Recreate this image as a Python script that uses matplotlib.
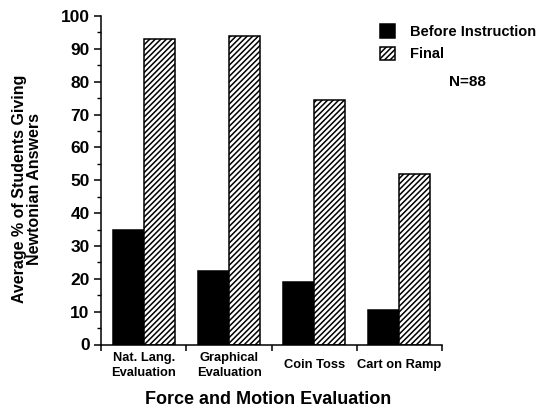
import matplotlib
matplotlib.use("Agg")
import matplotlib.pyplot as plt
import numpy as np
from matplotlib.ticker import MultipleLocator, FixedLocator

categories = ["Nat. Lang.\nEvaluation", "Graphical\nEvaluation", "Coin Toss", "Cart on Ramp"]
before = [35, 22.5, 19, 10.5]
final = [93, 94, 74.5, 52]
yticks = [0, 10, 20, 30, 40, 50, 60, 70, 80, 90, 100]

plt.rcParams['font.family'] = ['Liberation Sans', 'DejaVu Sans']
plt.rcParams['font.weight'] = 'bold'
plt.rcParams['hatch.linewidth'] = 1.1

W, H = 542, 407
fig = plt.figure(figsize=(W / 100, H / 100), dpi=100)
ax = fig.add_axes([100.7 / W, 1 - 344.5 / H, (442 - 100.7) / W, (344.5 - 16) / H])

x = np.arange(len(categories))
w = 0.363
b1 = ax.bar(x - w / 2, before, w, color='black', edgecolor='black', linewidth=1.1, label='Before Instruction')
b2 = ax.bar(x + w / 2, final, w, color='white', edgecolor='black', linewidth=1.1, hatch='//////', label='Final')

ax.set_xlim(-0.507, 3.5)
ax.set_ylim(0, 100)

for s in ['top', 'right']:
    ax.spines[s].set_visible(False)
for s in ['left', 'bottom']:
    ax.spines[s].set_linewidth(1.1)

ax.set_yticks(yticks)
ax.set_yticklabels([str(v) for v in yticks], fontsize=12.5, fontweight='bold')
ax.yaxis.set_minor_locator(MultipleLocator(5))
ax.tick_params(axis='y', which='major', direction='out', length=5, width=1.1, pad=3)
ax.tick_params(axis='y', which='minor', direction='out', length=3, width=1.0)

ax.set_xticks(x)
ax.set_xticklabels(categories, fontsize=9.3, fontweight='bold', linespacing=1.3)
for lbl in ax.get_xticklabels():
    lbl.set_verticalalignment('center')
ax.tick_params(axis='x', which='major', length=0, pad=15)
ax.xaxis.set_minor_locator(FixedLocator([-0.5, 0.5, 1.5, 2.5, 3.5]))
ax.tick_params(axis='x', which='minor', direction='out', length=4.3, width=1.1)

fig.text(268 / W, 1 - 399 / H, "Force and Motion Evaluation", fontsize=13, fontweight='bold',
         ha='center', va='center')

fig.text(27 / W, 1 - 189 / H, "Average % of Students Giving\nNewtonian Answers", fontsize=11.5,
         fontweight='bold', rotation=90, ha='center', va='center', multialignment='center',
         linespacing=1.0)

fig.legend(handles=[b1, b2], loc='upper left', bbox_to_anchor=(380 / W, 1 - 24 / H),
           bbox_transform=fig.transFigure, frameon=False,
           handlelength=1.05, handleheight=1.05, handletextpad=1.0, labelspacing=0.55,
           borderpad=0, borderaxespad=0, prop={'weight': 'bold', 'size': 10.5})

fig.text(467 / W, 1 - 82 / H, "N=88", fontsize=11, fontweight='bold', ha='center', va='center')

fig.savefig("out.png", dpi=100)
